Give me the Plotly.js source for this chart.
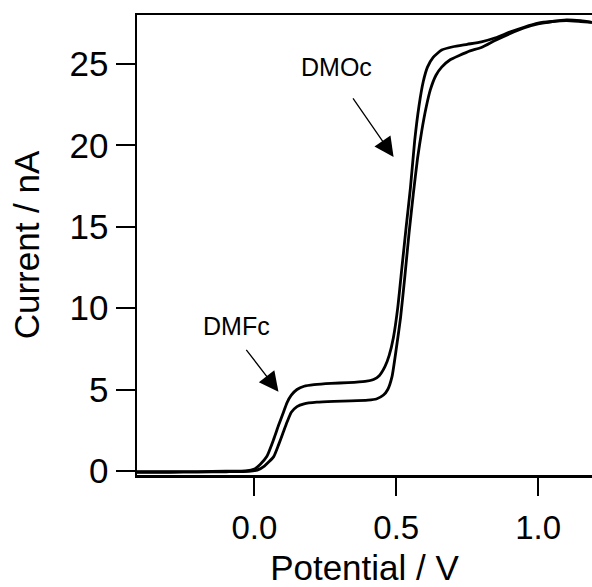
<!DOCTYPE html>
<html>
<head>
<meta charset="utf-8">
<script src="https://cdn.plot.ly/plotly-3.0.1.min.js"></script>
<style>html,body{margin:0;padding:0;background:#fff;}#chart{width:592px;height:587px;}</style>
</head>
<body>
<div id="chart"></div>
<script>
// Potential (V) and current (nA) for the two voltammograms
const potentialUpper = [-0.414, -0.3, -0.2, -0.1, -0.03, 0.0, 0.02, 0.044, 0.067, 0.085, 0.1, 0.115, 0.13, 0.15, 0.175, 0.21, 0.27, 0.33, 0.39, 0.42, 0.44, 0.46, 0.475, 0.49, 0.505, 0.52, 0.535, 0.55, 0.565, 0.58, 0.595, 0.61, 0.63, 0.66, 0.7, 0.75, 0.8, 0.85, 0.9, 0.95, 1.0, 1.05, 1.1, 1.15, 1.19];
const currentUpper = [-0.05, -0.05, -0.04, -0.02, 0.0, 0.12, 0.4, 0.9, 1.9, 2.8, 3.5, 4.2, 4.65, 5.0, 5.2, 5.3, 5.38, 5.42, 5.5, 5.62, 5.85, 6.4, 7.1, 8.2, 10.0, 12.5, 15.0, 17.4, 20.3, 22.4, 23.9, 24.8, 25.4, 25.85, 26.05, 26.2, 26.35, 26.6, 26.95, 27.25, 27.5, 27.6, 27.65, 27.6, 27.55];

const potentialLower = [-0.414, -0.3, -0.2, -0.1, -0.02, 0.01, 0.035, 0.068, 0.085, 0.1, 0.115, 0.13, 0.15, 0.175, 0.22, 0.28, 0.34, 0.4, 0.43, 0.455, 0.47, 0.485, 0.5, 0.515, 0.53, 0.545, 0.56, 0.575, 0.59, 0.605, 0.62, 0.64, 0.66, 0.69, 0.72, 0.76, 0.8, 0.85, 0.9, 0.95, 1.0, 1.05, 1.1, 1.15, 1.19];
const currentLower = [-0.08, -0.08, -0.07, -0.05, -0.02, 0.05, 0.3, 0.88, 1.6, 2.3, 3.0, 3.6, 3.95, 4.12, 4.22, 4.27, 4.3, 4.35, 4.42, 4.66, 5.0, 5.79, 7.5, 9.4, 11.9, 14.6, 17.0, 19.2, 20.9, 22.3, 23.4, 24.3, 24.8, 25.25, 25.5, 25.8, 26.0, 26.45, 26.85, 27.2, 27.45, 27.6, 27.7, 27.65, 27.55];

const xTickVals = [0, 0.5, 1.0];
const xTickText = ["0.0", "0.5", "1.0"];
const yTickVals = [0, 5, 10, 15, 20, 25];
const yTickText = ["0", "5", "10", "15", "20", "25"];

const FONT = "Liberation Sans, Arial, sans-serif";
const lineStyle = {color: "#000", width: 2.8, shape: "spline", smoothing: 0.5};

const traces = [
  {x: potentialUpper, y: currentUpper, type: "scatter", mode: "lines", line: lineStyle, hoverinfo: "skip"},
  {x: potentialLower, y: currentLower, type: "scatter", mode: "lines", line: lineStyle, hoverinfo: "skip"}
];

const layout = {
  width: 592, height: 587,
  margin: {l: 137, r: 0, t: 15, b: 112, pad: 0},
  paper_bgcolor: "#fff", plot_bgcolor: "#fff",
  showlegend: false,
  font: {family: FONT, color: "#000"},
  xaxis: {
    range: [-0.414, 1.19],
    showline: true, linecolor: "#000", linewidth: 2.5, mirror: true,
    showgrid: false, zeroline: false,
    ticks: "outside", ticklen: 18, tickwidth: 2, tickcolor: "#000",
    tickvals: xTickVals, ticktext: xTickText,
    ticklabelstandoff: 4,
    tickfont: {family: FONT, size: 33, color: "#000"},
    title: {text: "Potential / V", font: {family: FONT, size: 35, color: "#000"}, standoff: 14}
  },
  yaxis: {
    range: [-0.25, 28.0],
    showline: true, linecolor: "#000", linewidth: 2.5,
    showgrid: false, zeroline: false,
    ticks: "outside", ticklen: 19, tickwidth: 2, tickcolor: "#000",
    tickvals: yTickVals, ticktext: yTickText,
    tickfont: {family: FONT, size: 35, color: "#000"},
    title: {text: "Current / nA", font: {family: FONT, size: 35, color: "#000"}, standoff: 20}
  },
  annotations: [
    {x: 0.4905, y: 19.28, xref: "x", yref: "y", ax: -41.6, ay: -60, axref: "pixel", ayref: "pixel",
     showarrow: true, arrowhead: 2, arrowsize: 3, arrowwidth: 1.3, arrowcolor: "#000", text: ""},
    {x: 0.0847, y: 4.865, xref: "x", yref: "y", ax: -33.3, ay: -43.4, axref: "pixel", ayref: "pixel",
     showarrow: true, arrowhead: 2, arrowsize: 3, arrowwidth: 1.3, arrowcolor: "#000", text: ""},
    {x: (336 - 254.3) / 283.4, y: (471 - 67) / 16.3, xref: "x", yref: "y", showarrow: false,
     text: "DMOc", font: {family: FONT, size: 25, color: "#000"}},
    {x: (236 - 254.3) / 283.4, y: (471 - 326) / 16.3, xref: "x", yref: "y", showarrow: false,
     text: "DMFc", font: {family: FONT, size: 25, color: "#000"}}
  ]
};

Plotly.newPlot("chart", traces, layout, {staticPlot: true, displayModeBar: false});
</script>
</body>
</html>
